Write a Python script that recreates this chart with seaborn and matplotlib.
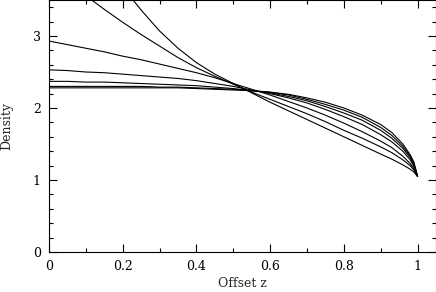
import numpy as np
import pandas as pd
import matplotlib
matplotlib.use("Agg")
import matplotlib.pyplot as plt
from matplotlib.ticker import MultipleLocator, FormatStrFormatter
import seaborn as sns

# ----------------------------
# Data
# ----------------------------
z = [0.0, 0.05, 0.1, 0.15, 0.2, 0.25, 0.3, 0.35, 0.4, 0.45, 0.5, 0.55,
     0.6, 0.65, 0.7, 0.75, 0.8, 0.85, 0.9, 0.93, 0.96, 0.98, 0.99, 1.0]

curve_a = [2.28, 2.28, 2.28, 2.28, 2.28, 2.28, 2.28, 2.28, 2.27, 2.26, 2.25, 2.24,
           2.22, 2.19, 2.14, 2.08, 2.00, 1.90, 1.77, 1.66, 1.50, 1.35, 1.25, 1.05]
curve_b = [2.30, 2.30, 2.30, 2.30, 2.30, 2.30, 2.29, 2.29, 2.28, 2.27, 2.26, 2.24,
           2.22, 2.18, 2.12, 2.05, 1.97, 1.87, 1.73, 1.62, 1.47, 1.33, 1.23, 1.05]
curve_c = [2.37, 2.37, 2.36, 2.36, 2.35, 2.34, 2.33, 2.32, 2.31, 2.29, 2.27, 2.24,
           2.21, 2.16, 2.10, 2.02, 1.93, 1.83, 1.69, 1.58, 1.44, 1.31, 1.21, 1.05]
curve_d = [2.53, 2.52, 2.50, 2.49, 2.47, 2.45, 2.43, 2.41, 2.38, 2.34, 2.30, 2.25,
           2.20, 2.14, 2.07, 1.98, 1.88, 1.77, 1.63, 1.53, 1.40, 1.28, 1.19, 1.05]
curve_e = [2.93, 2.88, 2.83, 2.78, 2.72, 2.67, 2.61, 2.55, 2.49, 2.42, 2.34, 2.26,
           2.18, 2.09, 2.00, 1.90, 1.79, 1.67, 1.54, 1.45, 1.33, 1.23, 1.16, 1.05]
curve_f = [4.05, 3.78, 3.56, 3.37, 3.19, 3.02, 2.86, 2.70, 2.56, 2.44, 2.33, 2.22,
           2.12, 2.02, 1.92, 1.81, 1.69, 1.58, 1.46, 1.38, 1.28, 1.20, 1.14, 1.05]
curve_g = [5.40, 4.70, 4.25, 3.95, 3.68, 3.36, 3.07, 2.83, 2.63, 2.47, 2.34, 2.21,
           2.08, 1.96, 1.84, 1.72, 1.60, 1.48, 1.36, 1.29, 1.21, 1.15, 1.11, 1.05]

curves = {"a": curve_a, "b": curve_b, "c": curve_c, "d": curve_d,
          "e": curve_e, "f": curve_f, "g": curve_g}

df = pd.concat(
    [pd.DataFrame({"z": z, "density": v, "curve": k}) for k, v in curves.items()],
    ignore_index=True,
)

# ----------------------------
# Plot
# ----------------------------
sns.set_style("ticks")
plt.rcParams["font.family"] = ["DejaVu Serif"]

fig = plt.figure(figsize=(4.36, 2.92), dpi=100)
ax = fig.add_axes([0.1124, 0.137, 0.8876, 0.863])

sns.lineplot(data=df, x="z", y="density", hue="curve", estimator=None,
             palette=["black"] * len(curves), linewidth=0.8, legend=False,
             sort=False, ax=ax)

ax.set_xlim(0, 1.05)
ax.set_ylim(0, 3.5)
ax.xaxis.set_major_locator(MultipleLocator(0.2))
ax.xaxis.set_minor_locator(MultipleLocator(0.1))
ax.yaxis.set_major_locator(MultipleLocator(1))
ax.yaxis.set_minor_locator(MultipleLocator(0.2))
ax.xaxis.set_major_formatter(FormatStrFormatter("%g"))
ax.yaxis.set_major_formatter(FormatStrFormatter("%g"))

ax.tick_params(which="both", direction="in", top=True, right=True,
               labelsize=9, width=0.8, colors="black", pad=6)
ax.tick_params(which="major", length=6)
ax.tick_params(which="minor", length=3)
for s in ax.spines.values():
    s.set_linewidth(0.8)
    s.set_color("black")

ax.set_xlabel("Offset z", fontsize=9, labelpad=3)
ax.set_ylabel("Density", fontsize=9, labelpad=14)

fig.savefig("out.png", dpi=100)
